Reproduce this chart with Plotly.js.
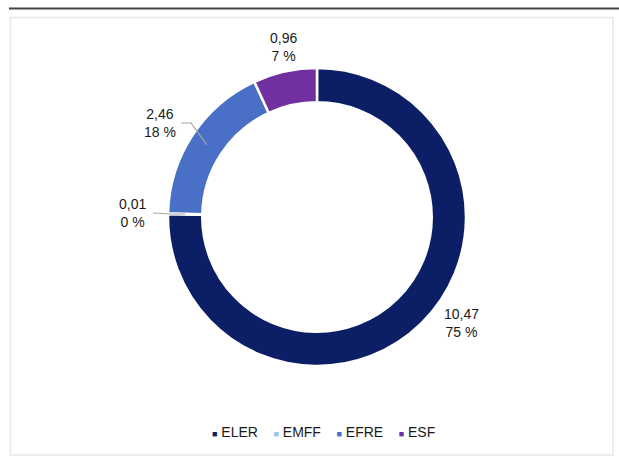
<!DOCTYPE html>
<html>
<head>
<meta charset="utf-8">
<script src="https://cdn.plot.ly/plotly-3.0.1.min.js"></script>
<style>html,body{margin:0;padding:0;background:#fff;}#chart{width:619px;height:460px;}</style>
</head>
<body>
<div id="chart"></div>
<script>
const categories = ["ELER", "EMFF", "EFRE", "ESF"];
const values = [10.47, 0.01, 2.46, 0.96];
const colors = ["#0c1f66", "#8ec4ee", "#4a6fc6", "#7030a0"];

const total = values.reduce((a, b) => a + b, 0);
const labelText = values.map(v =>
  v.toFixed(2).replace(".", ",") + "<br>" + Math.round(v / total * 100) + " %");

const W = 619, H = 460;
const cx = 317, cy = 217, r = 149, hole = 0.77;
const px = x => x / W, py = y => 1 - y / H;

// label placement (pixel positions of label centres) and leader-line flags
const labelPos = [[461, 323], [132, 213], [160, 123], [283, 47]];
const leader = [false, true, true, false];

const trace = {
  type: "pie",
  labels: categories,
  values: values,
  sort: false,
  direction: "clockwise",
  rotation: 0,
  hole: hole,
  marker: { colors: colors, line: { color: "#ffffff", width: 2.5 } },
  textinfo: "none",
  domain: { x: [px(cx - r), px(cx + r)], y: [py(cy + r), py(cy - r)] },
  showlegend: false,
  hoverinfo: "label+value"
};

const font = { family: "Liberation Sans, Arial, sans-serif", size: 14, color: "#1a1a1a" };
const annotations = labelText.map((t, i) => ({
  xref: "paper", yref: "paper", x: px(labelPos[i][0]), y: py(labelPos[i][1]),
  xanchor: "center", yanchor: "middle", text: t, showarrow: false, font: font
}));

// leader lines: from label edge to the middle of the slice's ring
const shapes = [
  { type: "line", xref: "paper", yref: "paper", x0: px(9), x1: 1, y0: py(8.5), y1: py(8.5),
    line: { color: "#454545", width: 2 } },
  { type: "rect", xref: "paper", yref: "paper", x0: px(10.5), x1: px(613), y0: py(455), y1: py(17.5),
    line: { color: "#e8e8e8", width: 1.5 }, fillcolor: "rgba(0,0,0,0)" }
];
let cum = 0;
values.forEach((v, i) => {
  const mid = (cum + v / 2) / total * 2 * Math.PI;
  cum += v;
  if (!leader[i]) return;
  const rr = i === 1 ? r * (1 + hole) / 2 : r * (1 + hole) / 2;
  const ex = cx + rr * Math.sin(mid), ey = cy - rr * Math.cos(mid);
  const lx = labelPos[i][0] + 21, ly = labelPos[i][1];
  const kx = i === 1 ? ex - 15 : lx + 10;
  const ky = i === 1 ? ey : ly;
  shapes.push({ type: "path", xref: "paper", yref: "paper",
    path: `M ${px(lx)} ${py(ly)} L ${px(kx)} ${py(ky)} L ${px(ex)} ${py(ey)}`,
    line: { color: "#a6a6a6", width: 1.2 } });
});

// legend as a single centred text line
const legendText = categories.map((c, i) =>
  `<span style="color:${colors[i]};font-size:9px">■</span> ${c}`).join("&nbsp;&nbsp;&nbsp;&nbsp;");
annotations.push({
  xref: "paper", yref: "paper", x: px(323), y: py(432), xanchor: "center", yanchor: "middle",
  text: legendText, showarrow: false,
  font: { family: "Liberation Sans, Arial, sans-serif", size: 14, color: "#1a1a1a" }
});

const layout = {
  width: W, height: H,
  margin: { l: 0, r: 0, t: 0, b: 0 },
  paper_bgcolor: "#ffffff",
  showlegend: false,
  annotations: annotations,
  shapes: shapes
};

Plotly.newPlot("chart", [trace], layout, { displayModeBar: false, staticPlot: true });
</script>
</body>
</html>
